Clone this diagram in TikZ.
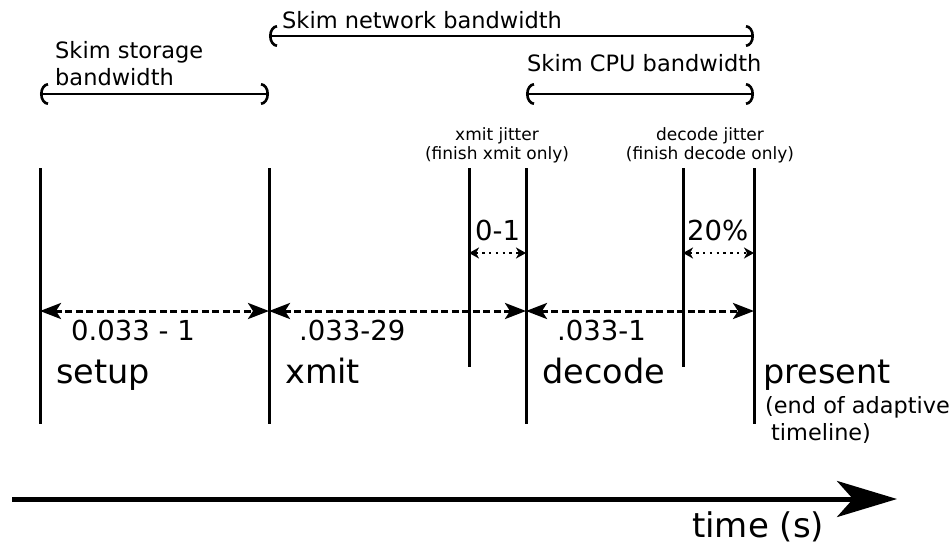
\documentclass[tikz,border=0pt]{standalone}
\usepackage{fontspec}
\setmainfont{DejaVu Sans}
\usetikzlibrary{arrows.meta}
\tikzset{
  vline/.style={line width=3pt},
  span/.style={line width=2.6pt,{Arc Barb[length=8pt,width=22pt,line width=2.6pt]}-{Arc Barb[length=8pt,width=22pt,line width=2.6pt]}},
  dasharrow/.style={line width=3pt,dash pattern=on 7pt off 3.5pt,{Stealth[length=21pt,width=16pt,inset=5pt]}-{Stealth[length=21pt,width=16pt,inset=5pt]}},
  dotarrow/.style={line width=2.6pt,dash pattern=on 2.4pt off 4.4pt,{Stealth[length=10pt,width=11pt,inset=3pt]}-{Stealth[length=10pt,width=11pt,inset=3pt]}},
  txt/.style={inner sep=0pt,anchor=base west},
  ctxt/.style={inner sep=0pt,anchor=base},
  bw/.style={txt,font=\fontsize{22.5}{27}\selectfont},
  jit/.style={ctxt,font=\fontsize{17}{20}\selectfont},
  num/.style={txt,font=\fontsize{27.5}{32}\selectfont},
  phase/.style={txt,font=\fontsize{33.5}{40}\selectfont},
  note/.style={txt,font=\fontsize{22.4}{27}\selectfont},
}
\begin{document}
\begin{tikzpicture}[x=1pt,y=-1pt]
\useasboundingbox (0,0) rectangle (952,544);
% vertical lines
\coordinate (a1) at (40,168);  \coordinate (a2) at (40,424);
\coordinate (b1) at (269,168); \coordinate (b2) at (269,424);
\coordinate (c1) at (469,168); \coordinate (c2) at (469,367);
\coordinate (d1) at (526,168); \coordinate (d2) at (526,424);
\coordinate (e1) at (683,168); \coordinate (e2) at (683,367);
\coordinate (f1) at (754,168); \coordinate (f2) at (754,424);
\foreach \p in {a,b,c,d,e,f} \draw[vline] (\p1) -- (\p2);
% bandwidth spans
\coordinate (ns) at (269,36); \coordinate (ne) at (754,36);
\coordinate (ss) at (40,94);  \coordinate (se) at (269,94);
\coordinate (cs) at (526,94); \coordinate (ce) at (754,94);
\draw[span] (ns) -- (ne);
\draw[span] (ss) -- (se);
\draw[span] (cs) -- (ce);
\node[bw] (lnet) at (282,28) {Skim network bandwidth};
\node[bw] (lsto1) at (55,58) {Skim storage};
\node[bw] (lsto2) at (55,85) {bandwidth};
\node[bw] (lcpu) at (527,71) {Skim CPU bandwidth};
% jitter labels
\node[jit] (xj1) at (497,140) {xmit jitter};
\node[jit] (xj2) at (497,159) {(finish xmit only)};
\node[jit] (dj1) at (710,140) {decode jitter};
\node[jit] (dj2) at (710,159) {(finish decode only)};
% dotted jitter arrows
\coordinate (xa) at (469,253); \coordinate (xb) at (526,253);
\coordinate (da) at (683,253); \coordinate (db) at (754,253);
\draw[dotarrow] (xa) -- (xb);
\draw[dotarrow] (da) -- (db);
\node[num] (n01) at (475,240) {0-1};
\node[num] (n20) at (687,240) {20\%};
% dashed duration arrows
\coordinate (p1) at (40,311);  \coordinate (p2) at (269,311);
\coordinate (p3) at (526,311); \coordinate (p4) at (754,311);
\draw[dasharrow] (p1) -- (p2);
\draw[dasharrow] (p2) -- (p3);
\draw[dasharrow] (p3) -- (p4);
\node[num] (ns1) at (71,340) {0.033 - 1};
\node[num] (ns2) at (299,340) {.033-29};
\node[num] (ns3) at (557,340) {.033-1};
% phase labels
\node[phase] (setup) at (56,383) {setup};
\node[phase] (xmit) at (285,383) {xmit};
\node[phase] (decode) at (542,383) {decode};
\node[phase] (present) at (763,383) {present};
\node[note] (end1) at (765,413) {(end of adaptive};
\node[note] (end2) at (771,440) {timeline)};
% time axis
\coordinate (t0) at (12,499); \coordinate (t1) at (897,499);
\draw[line width=5pt,-{Stealth[length=60pt,width=36pt,inset=16pt]}] (t0) -- (t1);
\node[txt,font=\fontsize{34}{40}\selectfont] (time) at (692,537) {time (s)};
\end{tikzpicture}
\end{document}
